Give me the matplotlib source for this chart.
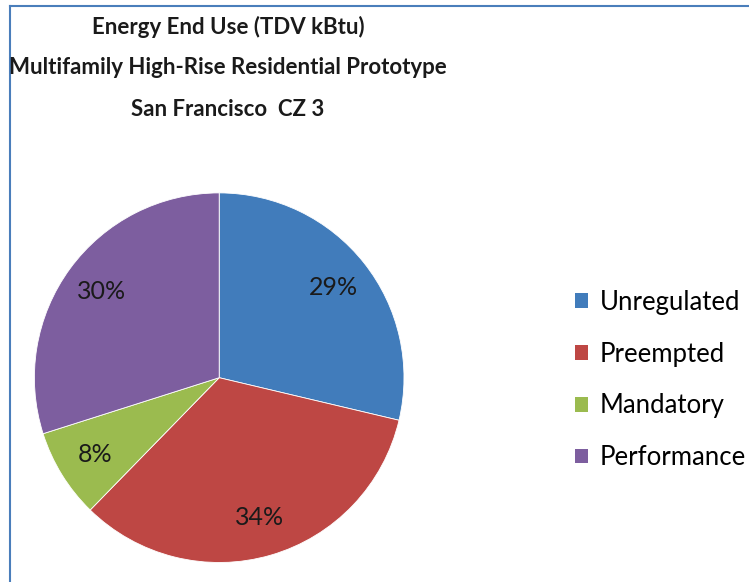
import matplotlib
matplotlib.use("Agg")
import matplotlib.pyplot as plt
from matplotlib.lines import Line2D
from matplotlib.patches import Patch
import numpy as np

plt.rcParams['font.family'] = ['Lato', 'DejaVu Sans']

categories = ['Unregulated', 'Preempted', 'Mandatory', 'Performance']
shares = [28.7, 33.6, 7.8, 29.9]
pct_labels = ['29%', '34%', '8%', '30%']
colors = ['#417cbb', '#be4744', '#9bbb4f', '#7d5e9f']

title_lines = ['Energy End Use (TDV kBtu)',
               'Multifamily High-Rise Residential Prototype',
               'San Francisco  CZ 3']

W, H = 749, 582
fig = plt.figure(figsize=(W / 100, H / 100), dpi=100)

# pie axes, centre ~ (219, 378) px from top-left, radius ~185 px
cx, cy, r = 219.2, 377.7, 184.8
ax = fig.add_axes([(cx - r) / W, (H - cy - r) / H, 2 * r / W, 2 * r / H])
wedges, _ = ax.pie(shares, colors=colors, startangle=90, counterclock=False,
                   radius=1, wedgeprops=dict(edgecolor='white', linewidth=0.6))
ax.set_xlim(-1, 1)
ax.set_ylim(-1, 1)
ax.set_aspect('equal')

ang = 90.0
for w, lab, s in zip(wedges, pct_labels, shares):
    mid = np.deg2rad(ang - s * 3.6 / 2)
    ang -= s * 3.6
    ax.text(0.79 * np.cos(mid), 0.79 * np.sin(mid), lab, ha='center', va='center',
            fontsize=18, color='#1a1a1a')

for i, t in enumerate(title_lines):
    fig.text(228 / W, 1 - (27 + 41 * i) / H, t, ha='center', va='center',
             fontsize=16, fontweight='bold', color='#1a1a1a')

handles = [Patch(facecolor=c, edgecolor='none') for c in colors]
fig.legend(handles, categories, loc='center left',
           bbox_to_anchor=(552 / W, 1 - 380 / H), frameon=False,
           fontsize=18.5, handlelength=0.5, handleheight=0.5,
           handletextpad=0.45, labelspacing=1.04)

# chart frame lines (left and top)
fig.add_artist(Line2D([9.5 / W, 9.5 / W], [0, 1 - 6 / H], color='#4a7ebb',
                      linewidth=1.5, transform=fig.transFigure))
fig.add_artist(Line2D([9.5 / W, 1], [1 - 6 / H, 1 - 6 / H], color='#4a7ebb',
                      linewidth=1.5, transform=fig.transFigure))

fig.savefig('out.png', dpi=100)
